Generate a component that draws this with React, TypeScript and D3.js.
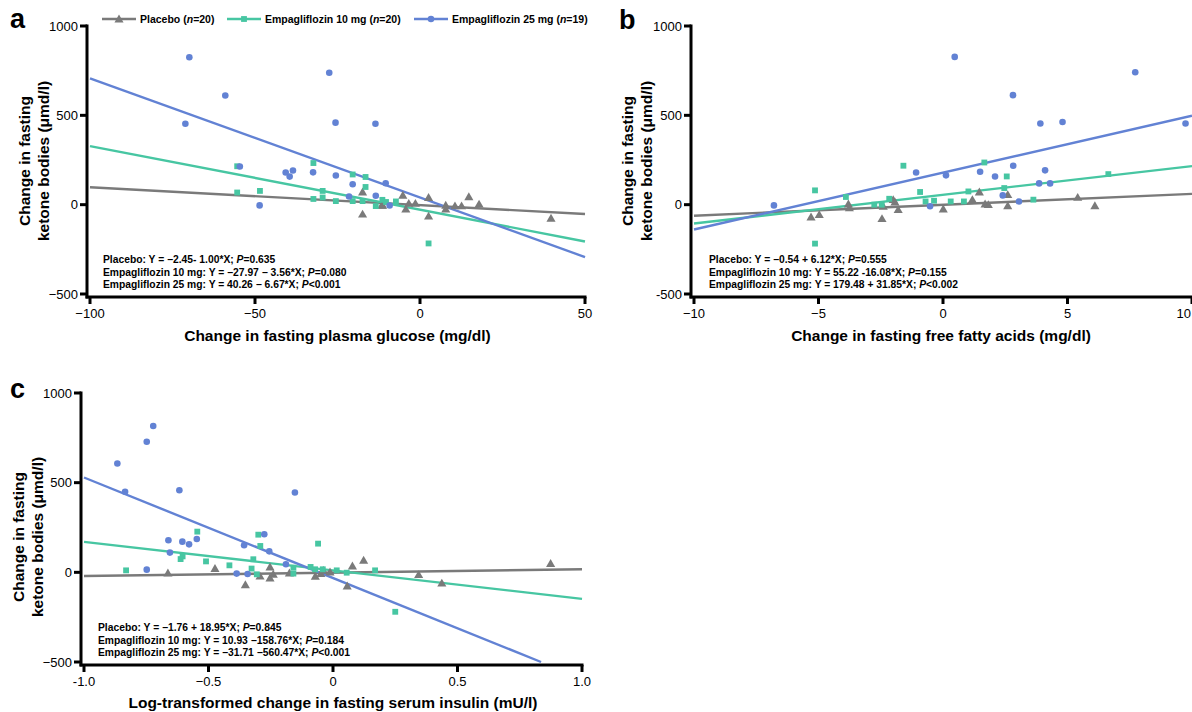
import * as d3 from "d3";

const FONT = "'Liberation Sans', Arial, Helvetica, sans-serif";
const GRAY = "#7a7a7a";
const TEAL = "#47c6a2";
const BLUE = "#6282d4";

// ---- panel a: change in fasting plasma glucose ----
const aPlacebo = [
  [-17.4, 71], [-17.4, -53], [-11.6, -3], [-11.3, -3], [-5.2, 53], [-4.3, -25], [-3.4, 7],
  [-1.4, 7], [2.6, 40], [2.6, -64], [7.8, -3], [7.8, -25], [10.6, -7], [12.6, -7], [14.8, 44],
  [17.9, 3], [39.7, -76],
];
const aEmpa10 = [
  [-55.4, 215], [-55.4, 68], [-48.5, 77], [-32.3, 233], [-32.3, 32], [-29.5, 77], [-29.5, 40],
  [-25.5, 20], [-20.4, 169], [-20.4, 20], [-17.4, 20], [-16.5, 155], [-16.5, 99], [-13.4, -8],
  [-11.4, 27], [-10.3, 15], [-7.3, 18], [2.6, -217],
];
const aEmpa25 = [
  [-69.9, 825], [-71.1, 453], [-59, 611], [-54.6, 214], [-48.6, -4], [-40.7, 180], [-39.5, 157],
  [-38.5, 191], [-32.4, 181], [-27.5, 738], [-25.6, 459], [-25.5, 163], [-21.5, 46], [-20.4, 114],
  [-13.5, 453], [-13.4, 50], [-10.4, 120], [-9.2, -5],
];
const aFits = [[-2.45, -1.0], [-27.97, -3.56], [40.26, -6.67]];
const aEquations = [
  ["Placebo: Y = −2.45- 1.00*X; ", "=0.635"],
  ["Empagliflozin 10 mg: Y = −27.97 − 3.56*X; ", "=0.080"],
  ["Empagliflozin 25 mg: Y = 40.26 − 6.67*X; ", "<0.001"],
];
const aXTicks = [-100, -50, 0, 50];
const aXLabels = ["−100", "−50", "0", "50"];
const aYLabels = ["−500", "0", "500", "1000"];

// ---- panel b: change in fasting free fatty acids ----
const bPlacebo = [
  [-5.3, -69], [-4.97, -56], [-3.8, 4], [-3.76, -18], [-2.45, -78], [-2.4, -9], [-2.0, 28],
  [-1.93, 15], [-1.8, -28], [0.01, -24], [1.18, 28], [1.46, 71], [1.69, 4], [1.82, 0],
  [2.6, 56], [2.6, -6], [5.41, 41], [6.1, -6],
];
const bEmpa10 = [
  [-5.14, 80], [-5.14, -218], [-3.9, 43], [-2.76, 0], [-2.46, 0], [-2.16, 33], [-1.59, 218],
  [-0.92, 71], [-0.7, 18], [-0.36, 22], [0.31, 18], [0.84, 18], [1.02, 74], [1.66, 236],
  [2.46, 93], [2.56, 158], [3.63, 28], [6.64, 171],
];
const bEmpa25 = [
  [-6.79, -4], [-1.08, 180], [0.12, 164], [-0.52, -9], [1.49, 184], [2.09, 158], [2.4, 52],
  [2.82, 218], [3.05, 18], [3.86, 119], [4.1, 192], [4.3, 119], [0.47, 827], [2.81, 613],
  [3.91, 454], [4.8, 463], [7.72, 741], [9.74, 454],
];
// the drawn 10 mg line rises, so its slope is taken as positive
const bFits = [[-0.54, 6.12], [55.22, 16.08], [179.48, 31.85]];
const bEquations = [
  ["Placebo: Y = −0.54 + 6.12*X; ", "=0.555"],
  ["Empagliflozin 10 mg: Y = 55.22 -16.08*X; ", "=0.155"],
  ["Empagliflozin 25 mg: Y = 179.48 + 31.85*X; ", "<0.002"],
];
const bXTicks = [-10, -5, 0, 5, 10];
const bXLabels = ["−10", "−5", "0", "5", "10"];
const bYLabels = ["-500", "0", "500", "1000"];

// ---- panel c: log-transformed change in fasting serum insulin ----
const cPlacebo = [
  [-0.663, -4], [-0.474, 21], [-0.352, -69], [-0.293, -21], [-0.253, 30], [-0.253, -32],
  [-0.24, -11], [-0.175, -4], [-0.071, -22], [-0.049, -7], [-0.039, 11], [-0.012, 2],
  [0.057, -76], [0.078, 35], [0.123, 67], [0.344, -13], [0.437, -60], [0.874, 49],
];
const cEmpa10 = [
  [-0.831, 11], [-0.545, 227], [-0.612, 74], [-0.604, 89], [-0.51, 61], [-0.416, 39],
  [-0.3, 210], [-0.292, 147], [-0.32, 73], [-0.327, 21], [-0.306, -11], [-0.159, 26],
  [-0.159, -7], [-0.06, 160], [-0.09, 30], [-0.072, 17], [-0.041, 17], [0.015, 11],
  [0.055, -2], [0.169, 11], [0.25, -220],
];
const cEmpa25 = [
  [-0.722, 816], [-0.748, 728], [-0.866, 607], [-0.835, 449], [-0.617, 458], [-0.153, 445],
  [-0.661, 179], [-0.655, 110], [-0.605, 171], [-0.578, 156], [-0.547, 186], [-0.748, 15],
  [-0.357, 151], [-0.276, 212], [-0.256, 117], [-0.387, -7], [-0.343, -9], [-0.189, 45],
];
const cFits = [[-1.76, 18.95], [10.93, -158.76], [-31.71, -560.47]];
const cEquations = [
  ["Placebo: Y = −1.76 + 18.95*X; ", "=0.845"],
  ["Empagliflozin 10 mg: Y = 10.93 −158.76*X; ", "=0.184"],
  ["Empagliflozin 25 mg: Y = −31.71 −560.47*X; ", "<0.001"],
];
const cXTicks = [-1, -0.5, 0, 0.5, 1];
const cXLabels = ["-1.0", "−0.5", "0", "0.5", "1.0"];
const cYLabels = ["−500", "0", "500", "1000"];

const yTicks = [-500, 0, 500, 1000];
const yDomain = [-500, 1000];
const groups = [
  { name: "Placebo", n: "20", color: GRAY, shape: "triangle" },
  { name: "Empagliflozin 10 mg", n: "20", color: TEAL, shape: "square" },
  { name: "Empagliflozin 25 mg", n: "19", color: BLUE, shape: "circle" },
];

const triPath = d3.symbol().type(d3.symbolTriangle).size(36)();
const sqPath = d3.symbol().type(d3.symbolSquare).size(34)();

function Marker({ shape, color, cx, cy }) {
  if (shape === "circle") return <circle cx={cx} cy={cy} r={3.3} fill={color} />;
  const d = shape === "triangle" ? triPath : sqPath;
  return <path d={d} transform={`translate(${cx},${cy + (shape === "triangle" ? 0.8 : 0)})`} fill={color} />;
}

function fitSegment(b0, b1, xd) {
  let lo = xd[0], hi = xd[1];
  if (b1 !== 0) {
    const xa = (yDomain[0] - b0) / b1;
    const xb = (yDomain[1] - b0) / b1;
    lo = Math.max(lo, Math.min(xa, xb));
    hi = Math.min(hi, Math.max(xa, xb));
  }
  return [[lo, b0 + b1 * lo], [hi, b0 + b1 * hi]];
}

function Panel({ p }) {
  const x = d3.scaleLinear().domain(p.xDomain).range([p.x0, p.x1]);
  const y = d3.scaleLinear().domain(yDomain).range([p.y1, p.y0]);
  const line = d3.line().x((d) => x(d[0])).y((d) => y(d[1]));
  const axX = p.x0 - 3;
  const axY = p.y1 + 3;
  const series = [p.placebo, p.empa10, p.empa25];
  return (
    <g fontFamily={FONT}>
      {/* regression lines */}
      {p.fits.map((f, i) => (
        <path key={i} d={line(fitSegment(f[0], f[1], p.xDomain))} stroke={groups[i].color} strokeWidth={2.4} fill="none" />
      ))}
      {/* points */}
      {series.map((s, i) =>
        s.map((d, j) => <Marker key={`${i}-${j}`} shape={groups[i].shape} color={groups[i].color} cx={x(d[0])} cy={y(d[1])} />)
      )}
      {/* axes */}
      <line x1={axX} x2={axX} y1={p.y0 - 1.5} y2={axY + 1.5} stroke="#000" strokeWidth={3} />
      <line x1={axX - 1.5} x2={p.x1 + 1.5} y1={axY} y2={axY} stroke="#000" strokeWidth={3} />
      {yTicks.map((t, i) => (
        <g key={t}>
          <line x1={axX - 7} x2={axX} y1={y(t)} y2={y(t)} stroke="#000" strokeWidth={3} />
          <text x={axX - 9} y={y(t)} dy="0.35em" textAnchor="end" fontSize={13}>{p.yLabels[i]}</text>
        </g>
      ))}
      {p.xTicks.map((t, i) => {
        const px = x(t);
        const edge = px > 1180;
        return (
          <g key={t}>
            <line x1={px} x2={px} y1={axY} y2={axY + 7} stroke="#000" strokeWidth={3} />
            <text x={edge ? 1191 : px} y={axY + 21} textAnchor={edge ? "end" : "middle"} fontSize={13}>{p.xLabels[i]}</text>
          </g>
        );
      })}
      {/* equations */}
      {p.equations.map((e, i) => (
        <text key={i} x={p.x0 + p.eqDx} y={p.eqY + i * 12.7} fontSize={10.3} fontWeight="bold">
          {e[0]}<tspan fontStyle="italic">P</tspan>{e[1]}
        </text>
      ))}
      {/* axis titles */}
      <text x={(p.x0 + p.titleRight) / 2} y={p.titleY} textAnchor="middle" fontSize={15.5} fontWeight="bold">{p.xTitle}</text>
      <text transform={`translate(${p.yTitleX},${p.yTitleY}) rotate(-90)`} textAnchor="middle" fontSize={15.5} fontWeight="bold">
        <tspan x={0} y={0}>Change in fasting</tspan>
        <tspan x={0} y={19}>ketone bodies (μmd/l)</tspan>
      </text>
      <text x={p.letterX} y={p.letterY} fontSize={27} fontWeight="bold">{p.letter}</text>
    </g>
  );
}

const panels = [
  {
    letter: "a", letterX: 10, letterY: 28, xDomain: [-100, 50], x0: 90, x1: 585, y0: 26, y1: 294,
    placebo: aPlacebo, empa10: aEmpa10, empa25: aEmpa25, fits: aFits, equations: aEquations,
    xTicks: aXTicks, xLabels: aXLabels, yLabels: aYLabels, eqDx: 13, eqY: 263,
    xTitle: "Change in fasting plasma glucose (mg/dl)", titleRight: 585, titleY: 341,
    yTitleX: 30, yTitleY: 161,
  },
  {
    letter: "b", letterX: 619, letterY: 29, xDomain: [-10, 10], x0: 694, x1: 1192, y0: 26, y1: 294,
    placebo: bPlacebo, empa10: bEmpa10, empa25: bEmpa25, fits: bFits, equations: bEquations,
    xTicks: bXTicks, xLabels: bXLabels, yLabels: bYLabels, eqDx: 15, eqY: 263,
    xTitle: "Change in fasting free fatty acids (mg/dl)", titleRight: 1188, titleY: 341,
    yTitleX: 633, yTitleY: 161,
  },
  {
    letter: "c", letterX: 10, letterY: 398, xDomain: [-1, 1], x0: 84, x1: 582, y0: 393, y1: 662,
    placebo: cPlacebo, empa10: cEmpa10, empa25: cEmpa25, fits: cFits, equations: cEquations,
    xTicks: cXTicks, xLabels: cXLabels, yLabels: cYLabels, eqDx: 14, eqY: 631,
    xTitle: "Log-transformed change in fasting serum insulin (mU/l)", titleRight: 582, titleY: 708,
    yTitleX: 24, yTitleY: 537,
  },
];

const legendX = [102, 227, 414];

export default function App() {
  return (
    <svg width={1192} height={712} style={{ position: "absolute", left: 0, top: 0, background: "#fff" }}>
      <rect width={1192} height={712} fill="#fff" />
      {panels.map((p) => <Panel key={p.letter} p={p} />)}
      <g fontFamily={FONT}>
        {groups.map((g, i) => (
          <g key={g.name}>
            <line x1={legendX[i]} x2={legendX[i] + 34} y1={19} y2={19} stroke={g.color} strokeWidth={2.4} />
            <Marker shape={g.shape} color={g.color} cx={legendX[i] + 17} cy={19} />
            <text x={legendX[i] + 38} y={19} dy="0.35em" fontSize={10.5} fontWeight="bold">
              {g.name} (<tspan fontStyle="italic">n</tspan>={g.n})
            </text>
          </g>
        ))}
      </g>
    </svg>
  );
}
